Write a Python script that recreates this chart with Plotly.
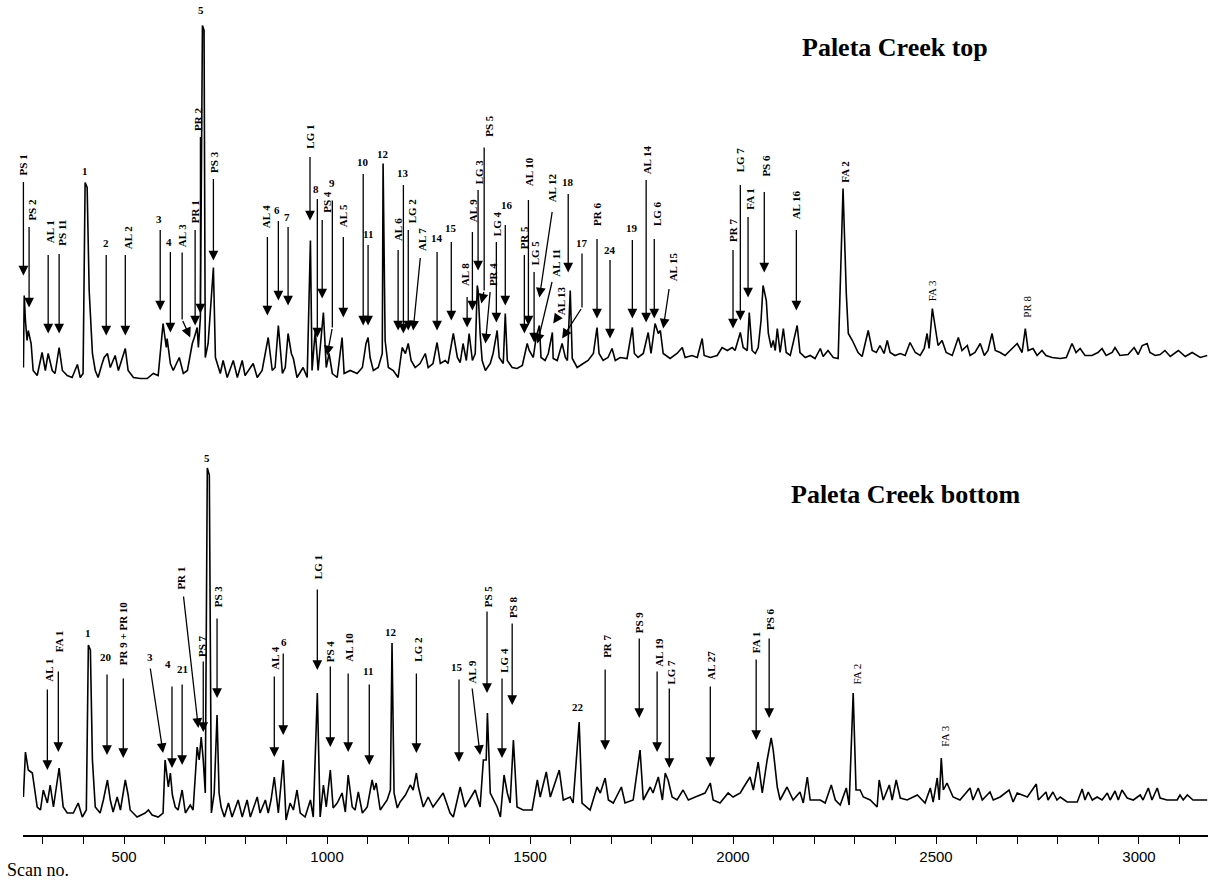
import plotly.graph_objects as go

# ---- chromatogram traces: (scan no., relative intensity) ----
top_trace = [
    (252, 50), (254, 122), (257, 97), (261, 77), (264, 87), (271, 74), (276, 47), (286, 42), (298, 65), (306, 47),
    (313, 64), (323, 47), (330, 44), (340, 70), (348, 47), (360, 42), (372, 40), (385, 53), (392, 40), (399, 44),
    (404, 235), (409, 230), (414, 127), (422, 64), (429, 47), (436, 40), (446, 54), (451, 60), (459, 64), (466, 50),
    (478, 62), (486, 47), (503, 69), (510, 47), (523, 40), (540, 39), (557, 39), (572, 44), (584, 42), (596, 94),
    (604, 70), (606, 79), (614, 54), (621, 47), (636, 60), (646, 44), (656, 47), (668, 74), (673, 80), (680, 90),
    (683, 70), (688, 100), (693, 392), (697, 387), (700, 60), (707, 74), (720, 150), (725, 60), (737, 44), (744, 57),
    (754, 40), (769, 57), (779, 40), (791, 57), (798, 42), (818, 54), (828, 40), (840, 47), (855, 80), (865, 47),
    (872, 50), (880, 92), (890, 44), (897, 50), (904, 84), (912, 64), (917, 59), (926, 40), (941, 50), (951, 40),
    (959, 177), (963, 47), (971, 87), (978, 47), (991, 105), (998, 50), (1005, 64), (1013, 44), (1025, 40), (1037, 80),
    (1042, 44), (1057, 47), (1074, 44), (1087, 50), (1096, 74), (1101, 80), (1106, 60), (1114, 47), (1126, 50), (1136, 64),
    (1138, 254), (1143, 77), (1151, 50), (1163, 47), (1175, 40), (1185, 70), (1193, 64), (1200, 74), (1207, 57), (1217, 50),
    (1229, 54), (1242, 64), (1249, 50), (1261, 54), (1271, 75), (1279, 54), (1291, 57), (1298, 54), (1311, 84), (1321, 60),
    (1328, 55), (1335, 74), (1343, 57), (1350, 84), (1358, 57), (1365, 64), (1370, 132), (1372, 127), (1377, 84), (1382, 57),
    (1390, 47), (1402, 54), (1409, 64), (1419, 87), (1424, 60), (1434, 54), (1439, 104), (1444, 57), (1456, 50), (1468, 49),
    (1481, 52), (1493, 74), (1498, 67), (1508, 60), (1515, 80), (1523, 92), (1527, 60), (1537, 57), (1545, 64), (1555, 85),
    (1557, 59), (1567, 57), (1579, 74), (1587, 60), (1592, 57), (1599, 127), (1604, 59), (1616, 50), (1631, 54), (1643, 57),
    (1656, 64), (1665, 90), (1670, 64), (1680, 57), (1692, 60), (1702, 69), (1710, 57), (1722, 60), (1739, 59), (1752, 90),
    (1757, 64), (1766, 60), (1779, 64), (1791, 85), (1798, 64), (1808, 94), (1816, 84), (1821, 87), (1828, 64), (1845, 59),
    (1862, 64), (1875, 70), (1882, 60), (1899, 62), (1912, 60), (1924, 79), (1929, 62), (1944, 60), (1961, 62), (1973, 70),
    (1986, 67), (1998, 70), (2005, 67), (2018, 85), (2025, 70), (2035, 67), (2040, 105), (2047, 67), (2055, 64), (2062, 70),
    (2069, 97), (2074, 132), (2082, 117), (2087, 84), (2094, 70), (2099, 77), (2104, 67), (2109, 89), (2116, 65), (2124, 89),
    (2131, 65), (2141, 62), (2158, 92), (2165, 65), (2178, 60), (2190, 62), (2202, 59), (2215, 69), (2222, 61), (2234, 67),
    (2247, 60), (2259, 59), (2271, 229), (2279, 124), (2284, 84), (2294, 77), (2308, 65), (2318, 61), (2333, 87), (2343, 67),
    (2353, 65), (2362, 72), (2372, 64), (2380, 77), (2387, 65), (2399, 62), (2412, 64), (2424, 62), (2436, 75), (2449, 65),
    (2461, 62), (2471, 69), (2478, 84), (2483, 69), (2491, 109), (2498, 89), (2505, 72), (2515, 77), (2525, 65), (2540, 62),
    (2555, 80), (2564, 67), (2577, 72), (2584, 62), (2596, 65), (2609, 74), (2619, 62), (2628, 67), (2638, 84), (2646, 67),
    (2658, 65), (2670, 62), (2683, 67), (2700, 74), (2712, 65), (2720, 89), (2727, 67), (2739, 69), (2749, 62), (2761, 67),
    (2771, 62), (2786, 60), (2806, 59), (2821, 60), (2835, 74), (2845, 65), (2855, 69), (2867, 62), (2884, 62), (2899, 65),
    (2909, 69), (2919, 62), (2934, 65), (2941, 70), (2953, 62), (2973, 63), (2988, 70), (2998, 63), (3008, 72), (3020, 74),
    (3027, 65), (3040, 62), (3052, 63), (3064, 67), (3077, 61), (3097, 67), (3114, 61), (3131, 65), (3151, 60), (3168, 62),
]

bottom_trace = [
    (252, 38), (257, 83), (264, 65), (274, 62), (286, 28), (294, 25), (301, 45), (311, 32), (318, 50), (326, 28),
    (340, 67), (350, 28), (360, 22), (375, 22), (387, 32), (397, 18), (407, 25), (412, 190), (417, 185), (422, 75),
    (429, 28), (441, 22), (449, 35), (459, 55), (466, 35), (473, 23), (483, 38), (491, 25), (503, 55), (510, 40),
    (515, 25), (532, 18), (552, 22), (560, 25), (569, 20), (584, 18), (596, 22), (601, 75), (609, 48), (614, 62),
    (619, 40), (626, 28), (633, 25), (643, 45), (651, 22), (663, 30), (670, 25), (675, 58), (680, 88), (685, 75),
    (690, 98), (695, 75), (700, 42), (705, 367), (710, 360), (715, 22), (722, 42), (729, 120), (734, 42), (739, 28),
    (747, 18), (757, 32), (766, 18), (781, 35), (791, 18), (803, 35), (811, 18), (828, 38), (835, 22), (848, 35),
    (855, 22), (862, 35), (870, 58), (880, 22), (892, 75), (899, 15), (909, 32), (917, 25), (926, 45), (934, 22),
    (946, 18), (959, 35), (966, 18), (976, 142), (981, 48), (983, 18), (991, 50), (998, 28), (1008, 65), (1015, 27),
    (1025, 32), (1037, 42), (1045, 23), (1052, 60), (1062, 28), (1069, 25), (1077, 43), (1087, 22), (1099, 28), (1111, 55),
    (1116, 45), (1121, 52), (1131, 25), (1148, 35), (1156, 45), (1160, 192), (1165, 42), (1173, 27), (1180, 33), (1193, 40),
    (1205, 50), (1212, 45), (1220, 62), (1225, 48), (1237, 28), (1249, 38), (1261, 28), (1286, 42), (1303, 22), (1311, 18),
    (1328, 48), (1340, 28), (1365, 45), (1377, 28), (1385, 75), (1392, 75), (1395, 122), (1402, 42), (1419, 28), (1427, 18),
    (1436, 60), (1444, 42), (1451, 32), (1459, 95), (1468, 28), (1483, 25), (1505, 25), (1518, 55), (1525, 38), (1540, 63),
    (1550, 38), (1572, 65), (1582, 35), (1599, 38), (1606, 32), (1621, 113), (1628, 32), (1648, 25), (1665, 48), (1673, 42),
    (1685, 57), (1693, 35), (1705, 32), (1725, 48), (1734, 32), (1754, 35), (1771, 85), (1779, 35), (1796, 48), (1803, 42),
    (1816, 58), (1826, 35), (1833, 62), (1840, 55), (1850, 38), (1862, 35), (1877, 45), (1890, 35), (1907, 38), (1919, 40),
    (1931, 42), (1944, 52), (1951, 35), (1968, 32), (1988, 42), (2000, 38), (2018, 42), (2025, 47), (2042, 58), (2050, 45),
    (2062, 73), (2072, 42), (2084, 75), (2094, 97), (2099, 85), (2109, 48), (2116, 35), (2133, 48), (2148, 35), (2165, 43),
    (2173, 32), (2183, 58), (2190, 35), (2215, 35), (2227, 32), (2242, 50), (2252, 35), (2264, 30), (2279, 47), (2286, 30),
    (2296, 142), (2303, 45), (2313, 45), (2321, 38), (2338, 35), (2355, 28), (2360, 55), (2370, 35), (2385, 50), (2392, 35),
    (2402, 55), (2412, 37), (2429, 35), (2454, 40), (2473, 32), (2486, 47), (2493, 33), (2503, 57), (2508, 35), (2513, 77),
    (2518, 45), (2527, 52), (2542, 38), (2559, 35), (2577, 43), (2584, 47), (2591, 35), (2604, 47), (2614, 35), (2633, 43),
    (2641, 35), (2658, 38), (2680, 45), (2690, 33), (2700, 42), (2725, 38), (2747, 51), (2752, 35), (2771, 43), (2776, 35),
    (2788, 43), (2798, 35), (2806, 38), (2823, 33), (2848, 33), (2860, 46), (2867, 35), (2875, 43), (2885, 35), (2897, 38),
    (2909, 35), (2922, 42), (2929, 35), (2941, 44), (2949, 35), (2958, 45), (2971, 37), (2986, 35), (3003, 40), (3010, 35),
    (3023, 47), (3032, 35), (3045, 47), (3052, 37), (3069, 35), (3094, 35), (3101, 40), (3109, 35), (3119, 40), (3133, 35),
    (3151, 35), (3168, 35),
]

top_scan = [p[0] for p in top_trace]
top_int = [p[1] for p in top_trace]
bottom_scan = [p[0] for p in bottom_trace]
bottom_int = [p[1] for p in bottom_trace]

x_ticks = list(range(300, 3200, 100))
x_tick_labels = [str(v) if v % 500 == 0 else "" for v in x_ticks]

# ---- peak labels: text, rotated, bold, label anchor (scan, intensity), arrow path tail -> head ----
top_labels = [
    ("PS 1", True, True, (252, 241), [(252, 237), (252, 142)]),
    ("PS 2", True, True, (271, 196), [(266, 192), (266, 110)]),
    ("AL 1", True, True, (318, 173), [(313, 164), (313, 84)]),
    ("PS 11", True, True, (345, 171), [(340, 165), (340, 84)]),
    ("1", False, True, (404, 240), []),
    ("2", False, True, (456, 168), [(456, 164), (456, 82)]),
    ("AL 2", True, True, (510, 167), [(503, 164), (503, 82)]),
    ("3", False, True, (587, 192), [(589, 189), (589, 107)]),
    ("4", False, True, (611, 169), [(614, 167), (614, 85)]),
    ("AL 3", True, True, (643, 169), [(643, 165), (643, 98), (663, 80)]),
    ("PR 1", True, True, (675, 193), [(675, 189), (675, 92)]),
    ("PR 2", True, True, (682, 286), [(688, 282), (688, 104)]),
    ("5", False, True, (690, 401), []),
    ("PS 3", True, True, (720, 244), [(720, 240), (720, 157)]),
    ("AL 4", True, True, (850, 188), [(853, 182), (853, 102)]),
    ("6", False, True, (877, 201), [(880, 198), (880, 117)]),
    ("7", False, True, (902, 194), [(904, 192), (904, 112)]),
    ("LG 1", True, True, (956, 268), [(958, 262), (958, 197)]),
    ("8", False, True, (973, 222), [(976, 220), (976, 80)]),
    ("PS 4", True, True, (998, 204), [(988, 199), (988, 119)]),
    ("9", False, True, (1013, 228), [(1013, 217), (1013, 90), (1000, 62)]),
    ("AL 5", True, True, (1040, 189), [(1040, 182), (1040, 100)]),
    ("10", False, True, (1089, 249), [(1089, 245), (1089, 92)]),
    ("11", False, True, (1101, 177), [(1101, 174), (1101, 92)]),
    ("12", False, True, (1138, 257), []),
    ("AL 6", True, True, (1175, 175), [(1175, 169), (1175, 87)]),
    ("13", False, True, (1188, 238), [(1188, 234), (1188, 84)]),
    ("LG 2", True, True, (1210, 193), [(1200, 189), (1200, 87)]),
    ("AL 7", True, True, (1234, 165), [(1230, 161), (1212, 87)]),
    ("14", False, True, (1271, 173), [(1271, 167), (1271, 87)]),
    ("15", False, True, (1306, 183), [(1306, 177), (1306, 97)]),
    ("AL 8", True, True, (1340, 130), [(1345, 122), (1345, 90)]),
    ("AL 9", True, True, (1360, 194), [(1358, 187), (1358, 107)]),
    ("LG 3", True, True, (1375, 232), [(1372, 229), (1372, 147)]),
    ("PS 5", True, True, (1397, 280), [(1387, 270), (1387, 127), (1380, 114)]),
    ("PR 4", True, True, (1409, 130), [(1402, 127), (1390, 74)]),
    ("LG 4", True, True, (1419, 180), [(1417, 177), (1417, 95)]),
    ("16", False, True, (1444, 206), [(1439, 194), (1439, 112)]),
    ("PR 5", True, True, (1486, 167), [(1486, 164), (1486, 84)]),
    ("AL 10", True, True, (1498, 230), [(1496, 219), (1496, 92)]),
    ("LG 5", True, True, (1513, 151), [(1510, 147), (1510, 75)]),
    ("AL 12", True, True, (1555, 214), [(1555, 207), (1523, 120)]),
    ("AL 11", True, True, (1562, 140), [(1555, 137), (1518, 74)]),
    ("AL 13", True, True, (1577, 101), [(1569, 101), (1557, 94)]),
    ("18", False, True, (1594, 229), [(1594, 225), (1594, 145)]),
    ("17", False, True, (1628, 168), [(1628, 164), (1628, 110), (1579, 79)]),
    ("PR 6", True, True, (1665, 190), [(1665, 180), (1665, 99)]),
    ("24", False, True, (1697, 161), [(1697, 159), (1697, 79)]),
    ("19", False, True, (1752, 183), [(1752, 179), (1752, 99)]),
    ("AL 14", True, True, (1789, 242), [(1786, 239), (1786, 95)]),
    ("LG 6", True, True, (1813, 190), [(1806, 180), (1806, 99)]),
    ("AL 15", True, True, (1853, 135), [(1843, 130), (1828, 89)]),
    ("PR 7", True, True, (2000, 174), [(2000, 169), (2000, 89)]),
    ("LG 7", True, True, (2018, 244), [(2018, 234), (2018, 97)]),
    ("FA 1", True, True, (2040, 207), [(2037, 202), (2037, 120)]),
    ("PS 6", True, True, (2079, 240), [(2077, 227), (2077, 145)]),
    ("AL 16", True, True, (2156, 197), [(2156, 189), (2156, 107)]),
    ("FA 2", True, True, (2274, 234), []),
    ("FA 3", True, False, (2491, 115), []),
    ("PR 8", True, False, (2722, 99), []),
]

bottom_labels = [
    ("AL 1", True, True, (313, 152), [(311, 147), (311, 65)]),
    ("FA 1", True, True, (340, 182), [(338, 165), (338, 83)]),
    ("1", False, True, (412, 195), []),
    ("20", False, True, (456, 171), [(458, 162), (458, 80)]),
    ("PR 9 + PR 10", True, True, (498, 169), [(498, 158), (498, 77)]),
    ("3", False, True, (564, 171), [(564, 168), (596, 82)]),
    ("4", False, True, (609, 164), [(618, 150), (618, 67)]),
    ("21", False, True, (643, 159), [(643, 152), (643, 70)]),
    ("PR 1", True, True, (638, 244), [(646, 240), (683, 107)]),
    ("PS 7", True, True, (692, 177), [(695, 175), (695, 103)]),
    ("5", False, True, (705, 370), []),
    ("PS 3", True, True, (732, 227), [(729, 218), (729, 137)]),
    ("AL 4", True, True, (870, 164), [(870, 160), (870, 78)]),
    ("6", False, True, (894, 186), [(892, 183), (892, 100)]),
    ("LG 1", True, True, (978, 255), [(976, 247), (976, 165)]),
    ("PS 4", True, True, (1008, 172), [(1008, 170), (1008, 88)]),
    ("AL 10", True, True, (1052, 172), [(1052, 163), (1052, 83)]),
    ("11", False, True, (1101, 157), [(1104, 152), (1104, 70)]),
    ("12", False, True, (1158, 196), []),
    ("LG 2", True, True, (1222, 172), [(1220, 163), (1220, 82)]),
    ("15", False, True, (1321, 161), [(1325, 157), (1325, 73)]),
    ("AL 9", True, True, (1357, 151), [(1357, 148), (1377, 80)]),
    ("PS 5", True, True, (1397, 227), [(1394, 225), (1394, 142)]),
    ("LG 4", True, True, (1434, 161), [(1431, 158), (1431, 77)]),
    ("PS 8", True, True, (1458, 216), [(1456, 213), (1456, 130)]),
    ("22", False, True, (1619, 121), []),
    ("PR 7", True, True, (1688, 176), [(1685, 167), (1685, 85)]),
    ("PS 9", True, True, (1769, 201), [(1769, 198), (1769, 117)]),
    ("AL 19", True, True, (1816, 167), [(1813, 165), (1813, 83)]),
    ("LG 7", True, True, (1845, 149), [(1843, 148), (1843, 67)]),
    ("AL 27", True, True, (1944, 154), [(1944, 150), (1944, 68)]),
    ("FA 1", True, True, (2057, 181), [(2057, 177), (2057, 95)]),
    ("PS 6", True, True, (2091, 204), [(2089, 198), (2089, 117)]),
    ("FA 2", True, False, (2303, 149), []),
    ("FA 3", True, False, (2520, 87), []),
]

FONT = "Liberation Serif"
INK = "black"

fig = go.Figure()
fig.add_trace(go.Scatter(x=top_scan, y=top_int, mode="lines", yaxis="y2",
                         line=dict(color=INK, width=1.6), hoverinfo="skip", showlegend=False))
fig.add_trace(go.Scatter(x=bottom_scan, y=bottom_int, mode="lines", yaxis="y",
                         line=dict(color=INK, width=1.6), hoverinfo="skip", showlegend=False))


def add_labels(labels, yref):
    for text, rot, bold, (lx, ly), path in labels:
        fig.add_annotation(
            x=lx, y=ly, xref="x", yref=yref,
            text=f"<b>{text}</b>" if bold else text,
            showarrow=False, textangle=-90 if rot else 0,
            xanchor="center", yanchor="bottom", borderpad=0,
            font=dict(family=FONT, size=11, color=INK),
        )
        if path:
            for (x0, y0), (x1, y1) in zip(path[:-2], path[1:-1]):
                fig.add_shape(type="line", x0=x0, y0=y0, x1=x1, y1=y1,
                              xref="x", yref=yref, line=dict(color=INK, width=1.3))
            (tx, ty), (hx, hy) = path[-2], path[-1]
            fig.add_annotation(
                x=hx, y=hy, ax=tx, ay=ty, xref="x", yref=yref, axref="x", ayref=yref,
                text="", showarrow=True, arrowhead=2, arrowsize=1.5, arrowwidth=1.3,
                arrowcolor=INK,
            )


add_labels(top_labels, "y2")
add_labels(bottom_labels, "y")

fig.add_annotation(x=2399, y=370, xref="x", yref="y2", text="<b>Paleta Creek top</b>",
                   showarrow=False, font=dict(family=FONT, size=26, color=INK))
fig.add_annotation(x=2424, y=341, xref="x", yref="y", text="<b>Paleta Creek bottom</b>",
                   showarrow=False, font=dict(family=FONT, size=26, color=INK))
fig.add_annotation(x=0, y=0, xref="paper", yref="paper", xshift=-18, yshift=-35,
                   xanchor="left", yanchor="middle", text="Scan no.", showarrow=False,
                   font=dict(family=FONT, size=18, color=INK))

fig.update_layout(
    width=1210, height=883,
    margin=dict(l=23, r=2, t=0, b=48),
    paper_bgcolor="white", plot_bgcolor="white",
    xaxis=dict(range=[251, 3170], showgrid=False, zeroline=False, showline=True,
               linecolor=INK, linewidth=1.5, ticks="outside", ticklen=7, tickwidth=1.2,
               tickcolor=INK, tickvals=x_ticks, ticktext=x_tick_labels,
               tickfont=dict(family="Liberation Sans", size=15, color=INK), anchor="y"),
    yaxis=dict(domain=[0, 0.5], range=[0, 417.5], visible=False),
    yaxis2=dict(domain=[0.5, 1], range=[0, 417.5], visible=False),
    showlegend=False,
)

# remove the browser's default 8px page margin so the figure sits at the window's corner
fig.write_html("out.html", config={"displayModeBar": False},
               post_script="document.body.style.margin='0px';")
